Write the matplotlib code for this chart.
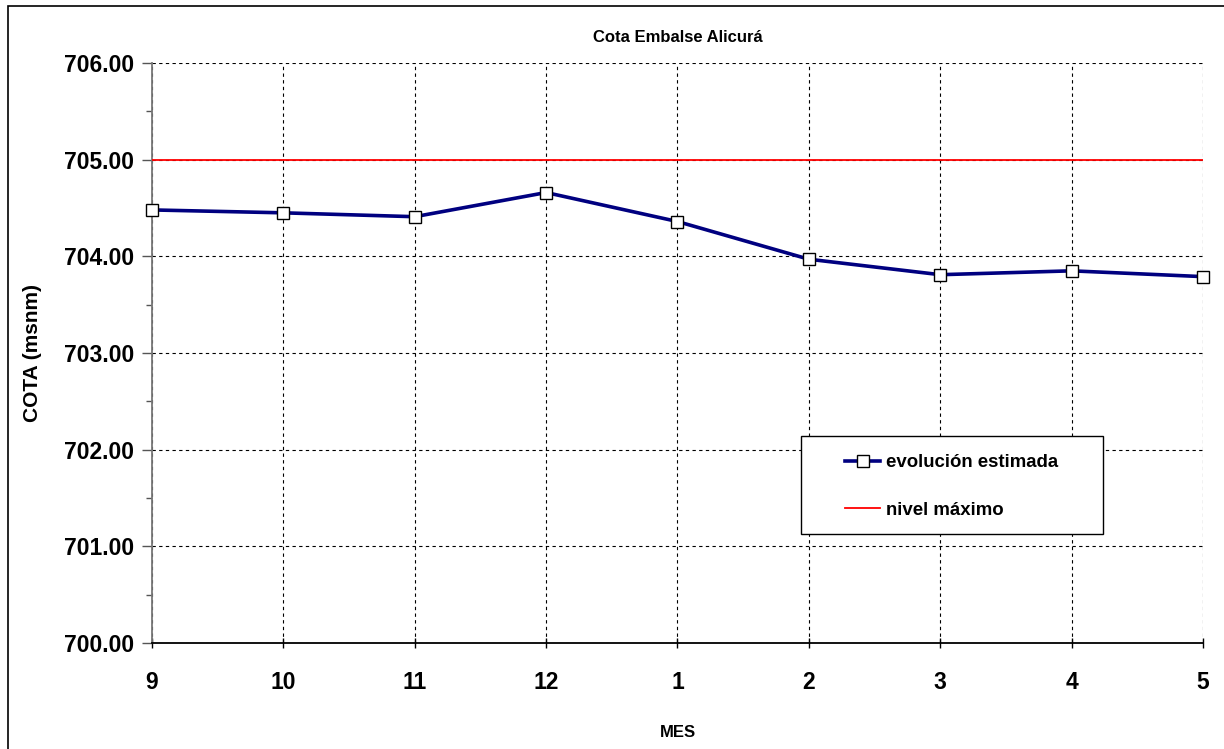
import matplotlib.pyplot as plt
from matplotlib.ticker import MultipleLocator, FormatStrFormatter

plt.rcParams['font.family'] = ['Liberation Sans', 'DejaVu Sans']

# Meses del período y cota estimada del embalse
meses = ['9', '10', '11', '12', '1', '2', '3', '4', '5']
cota_estimada = [704.48, 704.45, 704.41, 704.66, 704.36, 703.97, 703.81, 703.85, 703.79]
nivel_maximo = 705.00

fig = plt.figure(figsize=(12.24, 7.49), dpi=100)
ax = fig.add_axes([0.1242, 0.1415, 0.8586, 0.7744])

x = list(range(len(meses)))
ax.plot(x, cota_estimada, color='#000080', linewidth=2.6, marker='s', markersize=9,
        markerfacecolor='white', markeredgecolor='black', markeredgewidth=1.0,
        label='evolución estimada', zorder=4, clip_on=False)
ax.axhline(nivel_maximo, color='#ff0000', linewidth=1.3, label='nivel máximo', zorder=3)

ax.set_xlim(0, len(meses) - 1)
ax.set_ylim(700, 706)
ax.set_xticks(x)
ax.set_xticklabels(meses)
ax.yaxis.set_major_locator(MultipleLocator(1))
ax.yaxis.set_minor_locator(MultipleLocator(0.5))
ax.yaxis.set_major_formatter(FormatStrFormatter('%.2f'))

ax.grid(True, which='major', color='black', linestyle=(0, (3, 3)), linewidth=0.8)
for lbl in ax.get_xticklabels() + ax.get_yticklabels():
    lbl.set_fontweight('bold')
    lbl.set_fontsize(16.5)
ax.tick_params(axis='y', which='major', length=7, width=1, color='#555555', pad=6)
ax.tick_params(axis='y', which='minor', length=4, width=1, color='#555555')
ax.tick_params(axis='x', which='major', length=7, width=1, direction='inout', pad=17)

ax.spines['top'].set_visible(False)
ax.spines['right'].set_visible(False)
ax.spines['left'].set_color('#777777')
ax.spines['left'].set_linewidth(1.3)
ax.spines['bottom'].set_color('black')
ax.spines['bottom'].set_linewidth(1.3)

ax.set_title('Cota Embalse Alicurá', fontsize=12, fontweight='bold', pad=15)
ax.set_ylabel('COTA (msnm)', fontsize=15, fontweight='bold', va='center')
ax.yaxis.set_label_coords(-0.1138, 0.5)
ax.set_xlabel('MES', fontsize=12, fontweight='bold', va='center')
ax.xaxis.set_label_coords(0.5, -0.155)

# Recuadro de la leyenda
ax.add_patch(plt.Rectangle((0.6175, 0.188), 0.2873, 0.169, transform=ax.transAxes,
                           facecolor='white', edgecolor='black', linewidth=1.0, zorder=5))
leg = ax.legend(loc='center left', bbox_to_anchor=(0.6594, 0.2698), frameon=False,
                prop={'weight': 'bold', 'size': 13.4}, handlelength=1.9,
                labelspacing=1.65, borderpad=0, borderaxespad=0, handletextpad=0.3)
leg.set_zorder(6)

# Marco exterior de la figura (solo quedan visibles los lados izquierdo y superior)
fig.patches.append(plt.Rectangle((0.0065, -0.05), 1.05, 1.042, transform=fig.transFigure,
                                 fill=False, edgecolor='black', linewidth=1.2))

fig.savefig('out.png', dpi=100)
